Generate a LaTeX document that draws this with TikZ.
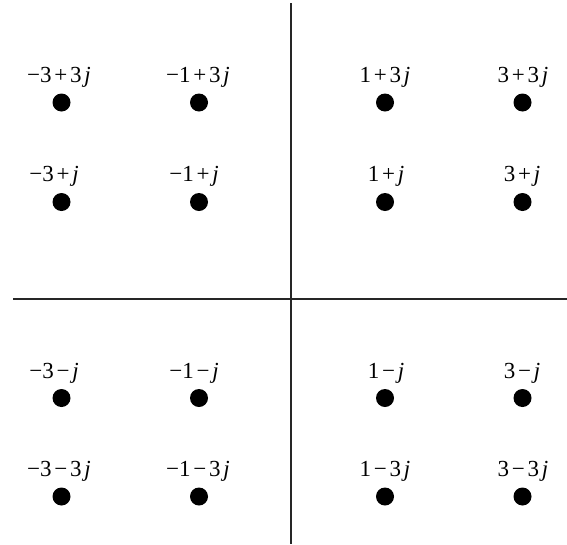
\documentclass[tikz,border=0pt]{standalone}
\usepackage{fontspec}
\setmainfont{Liberation Serif}
\newcommand{\jj}{\textit{j}}
\newcommand{\gp}{\hspace{2.8pt}}
\tikzset{
  dot/.style={circle,fill=black,inner sep=0pt,minimum width=17pt,minimum height=18pt},
  lbl/.style={anchor=base,inner sep=0pt,font=\fontsize{23}{26}\selectfont},
  axis/.style={line width=1.3pt,draw=black!85}
}
\begin{document}
\begin{tikzpicture}[x=1pt,y=-1pt]
\useasboundingbox (0,0) rectangle (567,544);
\coordinate (vt) at (291,3);
\coordinate (vb) at (291,544);
\coordinate (hl) at (13,299);
\coordinate (hr) at (567,299);
\draw[axis] (vt) -- (vb);
\draw[axis] (hl) -- (hr);
% columns 61.5, 199, 385, 522.5 ; rows 102.5, 202, 398, 496.5
\foreach \x/\cx in {a/61.5,b/199,c/385,d/522.5}{
  \foreach \y/\cy in {1/102.5,2/202,3/398,4/496.5}{
    \node[dot] (d\x\y) at (\cx,\cy) {};
  }
}
\node[lbl] (la1) at (59,82) {−3\gp+\gp3\gp\jj};
\node[lbl] (lb1) at (198,82) {−1\gp+\gp3\gp\jj};
\node[lbl] (lc1) at (385,82) {1\gp+\gp3\gp\jj};
\node[lbl] (ld1) at (523,82) {3\gp+\gp3\gp\jj};
\node[lbl] (la2) at (54,181) {−3\gp+\gp\jj};
\node[lbl] (lb2) at (194,181) {−1\gp+\gp\jj};
\node[lbl] (lc2) at (386,181) {1\gp+\gp\jj};
\node[lbl] (ld2) at (522,181) {3\gp+\gp\jj};
\node[lbl] (la3) at (54,378) {−3\gp−\gp\jj};
\node[lbl] (lb3) at (194,378) {−1\gp−\gp\jj};
\node[lbl] (lc3) at (386,378) {1\gp−\gp\jj};
\node[lbl] (ld3) at (522,378) {3\gp−\gp\jj};
\node[lbl] (la4) at (59,476) {−3\gp−\gp3\gp\jj};
\node[lbl] (lb4) at (198,476) {−1\gp−\gp3\gp\jj};
\node[lbl] (lc4) at (385,476) {1\gp−\gp3\gp\jj};
\node[lbl] (ld4) at (523,476) {3\gp−\gp3\gp\jj};
\end{tikzpicture}
\end{document}
